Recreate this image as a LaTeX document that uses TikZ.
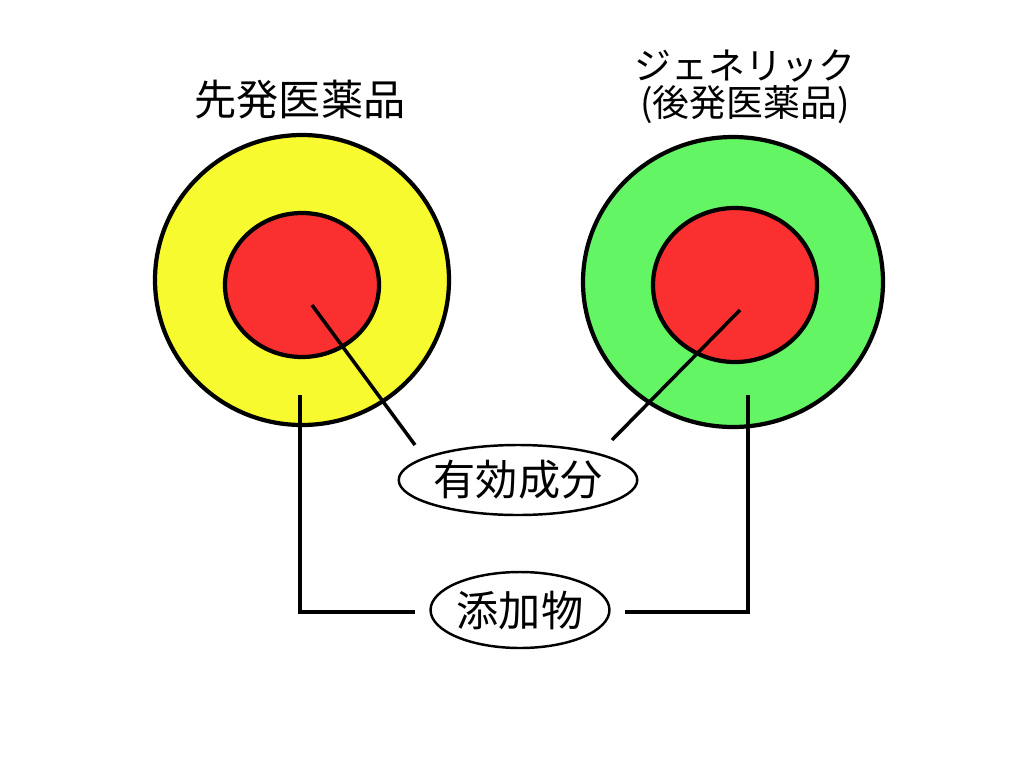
\documentclass[tikz,border=0pt]{standalone}
\usepackage{fontspec}
\newfontfamily\jp{Noto Sans CJK JP}
\usetikzlibrary{shapes.geometric, positioning}
\definecolor{yell}{RGB}{248,250,48}
\definecolor{grn}{RGB}{100,245,100}
\definecolor{rd}{RGB}{250,48,48}
\tikzstyle{disc} = [ellipse, draw, line width=2.4pt, inner sep=0pt]
\tikzstyle{tag} = [ellipse, draw, line width=1.4pt, fill=white, inner sep=0pt, font=\jp\fontsize{24}{28}\selectfont]
\tikzstyle{title} = [font=\jp\fontsize{24}{28}\selectfont]
\tikzstyle{smalltitle} = [font=\jp\fontsize{21}{24}\selectfont]
\tikzstyle{wire} = [line width=2pt]

\begin{document}
\begin{tikzpicture}[x=0.02cm, y=-0.02cm]
    \useasboundingbox (0,0) rectangle (1024,768);

    % Drugs
    \node (orig) [disc, fill=yell, minimum width=294*0.02cm, minimum height=290*0.02cm] at (302,280) {};
    \node (origcore) [disc, fill=rd, minimum width=154*0.02cm, minimum height=144*0.02cm] at (302,285) {};
    \node (gen) [disc, fill=grn, minimum width=300*0.02cm, minimum height=290*0.02cm] at (733,282) {};
    \node (gencore) [disc, fill=rd, minimum width=164*0.02cm, minimum height=154*0.02cm] at (735,285) {};

    % Titles
    \node (origname) [title] at (300,100) {先発医薬品};
    \node (genname) [smalltitle] at (745,66) {ジェネリック};
    \node (genname2) [smalltitle] at (745,105) {(後発医薬品)};

    % Labels
    \node (active) [tag, minimum width=190*0.02cm, minimum height=70*0.02cm] at (518,480) {有効成分};
    \node (additive) [tag, minimum width=165*0.02cm, minimum height=76*0.02cm] at (520,610) {添加物};

    \coordinate (a1) at (312,305);
    \coordinate (a2) at (415,445);
    \coordinate (b1) at (740,310);
    \coordinate (b2) at (612,440);
    \coordinate (c1) at (300,395);
    \coordinate (c2) at (415,612);
    \coordinate (d1) at (748,395);
    \coordinate (d2) at (625,612);

    % ==== Lines
    \draw [wire] (a1) -- (a2);
    \draw [wire] (b1) -- (b2);
    \draw [wire] (c1) |- (c2);
    \draw [wire] (d1) |- (d2);

\end{tikzpicture}
\end{document}
